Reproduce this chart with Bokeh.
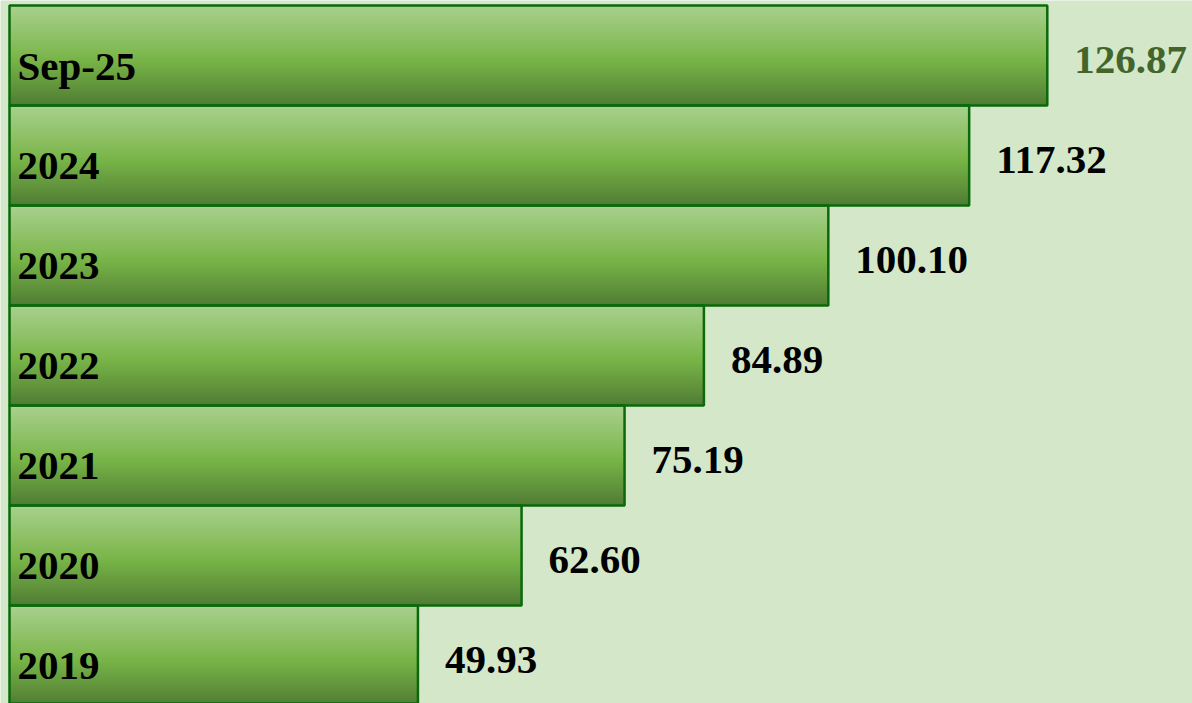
from bokeh.plotting import figure
from bokeh.models import ColumnDataSource, Range1d
from bokeh.core.properties import value
from bokeh.embed import file_html
from bokeh.resources import INLINE

# ---- data ----
categories = ["Sep-25", "2024", "2023", "2022", "2021", "2020", "2019"]
values = [126.87, 117.32, 100.10, 84.89, 75.19, 62.60, 49.93]
label_colors = ["#43652b", "#000000", "#000000", "#000000", "#000000", "#000000", "#000000"]

# ---- style ----
BG = "#d4e7c9"
EDGE = "#0a6a0a"
FONT = "Liberation Serif"
stops = [(0.0, (0xA9, 0xD1, 0x8E)), (0.55, (0x78, 0xB4, 0x47)), (1.0, (0x50, 0x7C, 0x34))]

def grad(t):
    for (t0, c0), (t1, c1) in zip(stops[:-1], stops[1:]):
        if t0 <= t <= t1:
            f = (t - t0) / (t1 - t0)
            return "#%02x%02x%02x" % tuple(int(round(a + (b - a) * f)) for a, b in zip(c0, c1))
    return "#%02x%02x%02x" % stops[-1][1]

W, H = 1192, 703
px_per_unit = 8.18
p = figure(width=W, height=H, output_backend="svg", toolbar_location=None,
           x_range=Range1d(-9 / px_per_unit, (W - 9) / px_per_unit),
           y_range=Range1d(6.48, -0.55), min_border=0)
p.axis.visible = False
p.grid.visible = False
p.outline_line_color = None
p.background_fill_color = BG
p.border_fill_color = BG

idx = list(range(len(categories)))
K = 60
tops, bottoms, rights, cols = [], [], [], []
for k in range(K):
    t = (k + 0.5) / K
    for i, v in zip(idx, values):
        tops.append(i - 0.5 + k / K)
        bottoms.append(i + 0.5)
        rights.append(v)
        cols.append(grad(t))
strips = ColumnDataSource(dict(top=tops, bottom=bottoms, right=rights, color=cols))
p.quad(left=0, right="right", top="top", bottom="bottom", fill_color="color",
       line_color=None, source=strips)

src = ColumnDataSource(dict(y=idx, right=values, cat=categories,
                            lab=["%.2f" % v for v in values], lc=label_colors))
p.hbar(y="y", left=0, right="right", height=1.0, fill_color=None,
       line_color=EDGE, line_width=2.5, source=src)

p.text(x=0, y="y", text="cat", source=src, x_offset=8, y_offset=10,
       text_baseline="alphabetic", text_align="left",
       text_font=value(FONT), text_font_style="bold", text_font_size="41px",
       text_color="#000000")
p.text(x="right", y="y", text="lab", source=src, x_offset=27, y_offset=4,
       text_baseline="alphabetic", text_align="left",
       text_font=value(FONT), text_font_style="bold", text_font_size="41px",
       text_color="lc")

open("out.html", "w").write(file_html(p, INLINE))
